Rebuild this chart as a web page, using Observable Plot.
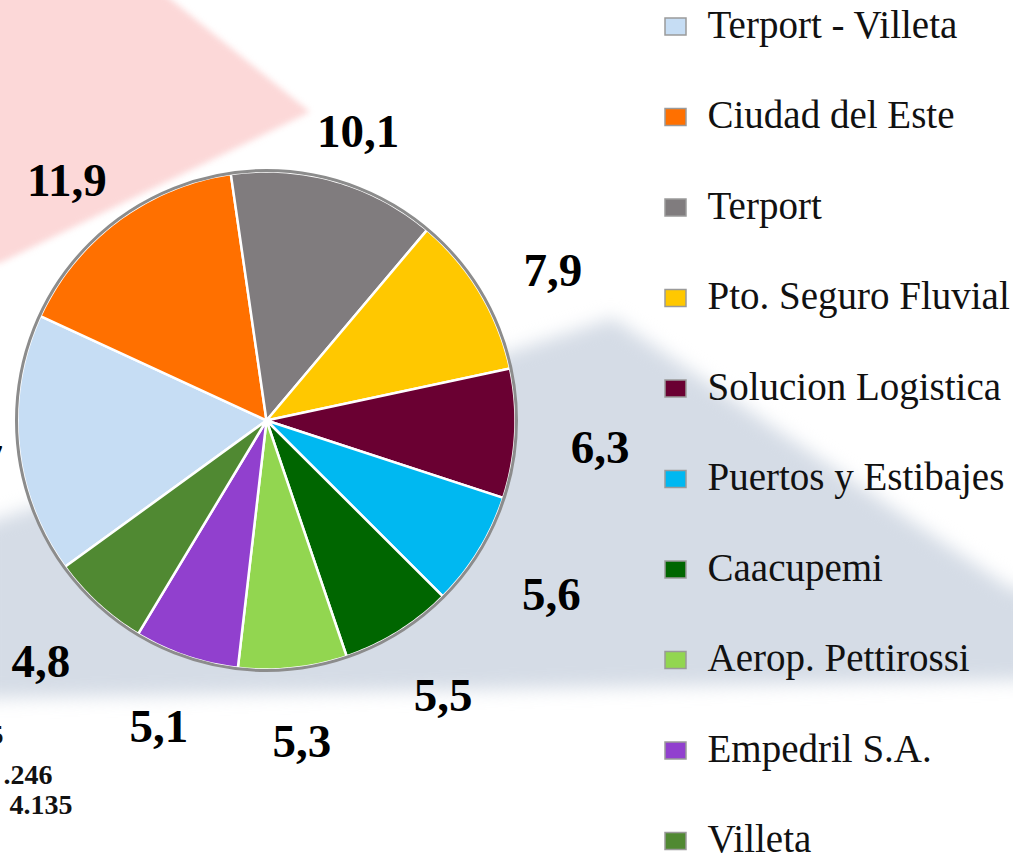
<!DOCTYPE html>
<html>
<head>
<meta charset="utf-8">
<script src="https://cdn.jsdelivr.net/npm/d3@7"></script>
<script src="https://cdn.jsdelivr.net/npm/@observablehq/plot@0.6"></script>
<style>
  html, body { margin: 0; padding: 0; background: #ffffff; overflow: hidden; }
  #wrap { position: relative; width: 1013px; height: 857px; overflow: hidden; background: #ffffff; }
  .bg { position: absolute; left: 0; top: 0; width: 1013px; height: 857px; }
  .shape { position: absolute; left: -20px; top: -20px; width: 1053px; height: 897px; }
  #chart { position: absolute; left: 0; top: 0; }
</style>
</head>
<body>
<div id="wrap">
  <div class="bg" style="filter: blur(3px);">
    <div class="shape" style="background:#fcd8d8; clip-path: polygon(0px 0px, 167px 0px, 330px 132px, 20px 283px, 0px 283px);"></div>
  </div>
  <div class="bg" style="filter: blur(9px);">
    <div class="shape" style="background:#d5dce6; clip-path: polygon(633px 338px, 1033px 610px, 1053px 610px, 1053px 700px, 20px 718px, 0px 718px, 0px 545px);"></div>
  </div>
  <div id="chart"></div>
</div>
<script>
// ---- data ----
const categories = ["Terport - Villeta", "Ciudad del Este", "Terport", "Pto. Seguro Fluvial",
  "Solucion Logistica", "Puertos y Estibajes", "Caacupemi", "Aerop. Pettirossi", "Empedril S.A.", "Villeta"];
const values = [12.7, 11.9, 10.1, 7.9, 6.3, 5.6, 5.5, 5.3, 5.1, 4.8];
const valueLabels = ["12,7", "11,9", "10,1", "7,9", "6,3", "5,6", "5,5", "5,3", "5,1", "4,8"];
const colors = ["#c6ddf4", "#ff7000", "#807c7e", "#ffc800", "#6a0032", "#00b8f1",
  "#006600", "#92d650", "#9140ce", "#508932"];
const notes = ["5", ".246", "4.135"];

// ---- layout constants ----
const W = 1013, H = 857;
const cx = 266, cy = 420, R = 249;
const startDeg = 234;                 // first slice starts here (clockwise from 12 o'clock)
const labelCx = 266, labelCy = 431, labelRx = 334, labelRy = 312;   // outside-end label ring
const labelFont = 47;
const chartLeft = -80;                // the chart area continues past the left edge of the picture
const legendX = 665, legendTextX = 707, legendY0 = 37, legendStep = 90.5;

const rows = categories.map((name, i) => ({name, value: values[i], label: valueLabels[i], color: colors[i], i}));

const arcs = d3.pie().sort(null).value(d => d.value)
  .startAngle(startDeg * Math.PI / 180)
  .endAngle(startDeg * Math.PI / 180 + 2 * Math.PI)(rows);

// slice polygons
const slicePts = [];
for (const a of arcs) {
  const d = a.data;
  slicePts.push({name: d.name, color: d.color, x: cx, y: cy});
  const n = Math.max(8, Math.ceil((a.endAngle - a.startAngle) * 180 / Math.PI));
  for (let k = 0; k <= n; k++) {
    const t = a.startAngle + (a.endAngle - a.startAngle) * k / n;
    slicePts.push({name: d.name, color: d.color, x: cx + R * Math.sin(t), y: cy - R * Math.cos(t)});
  }
}

// label positions (kept inside the chart area)
const labelPts = arcs.map(a => {
  const m = (a.startAngle + a.endAngle) / 2;
  const halfW = a.data.label.length * labelFont * 0.22;
  let x = labelCx + labelRx * Math.sin(m);
  x = Math.max(x, chartLeft + halfW);
  return {text: a.data.label, x, y: labelCy - labelRy * Math.cos(m)};
});

const legendRows = rows.map(d => ({...d, y: legendY0 + legendStep * d.i}));
const noteRows = [
  {text: notes[0], x: 3, y: 743},
  {text: notes[1], x: 52, y: 783},
  {text: notes[2], x: 72, y: 813}
];

const serif = "'Liberation Serif', 'Times New Roman', 'DejaVu Serif', serif";

const chart = Plot.plot({
  width: W, height: H, margin: 0,
  style: {background: "transparent", overflow: "visible"},
  x: {domain: [0, W], range: [0, W], axis: null},
  y: {domain: [0, H], range: [0, H], axis: null},
  color: {type: "identity"},
  marks: [
    Plot.line(slicePts, {x: "x", y: "y", z: "name", fill: "color", stroke: "#ffffff", strokeWidth: 2.5,
      strokeLinejoin: "round", curve: "linear-closed"}),
    Plot.dot([{x: cx, y: cy}], {x: "x", y: "y", r: R + 1, fill: "none", stroke: "#8c8c8c", strokeWidth: 3}),
    Plot.text(labelPts, {x: "x", y: "y", text: "text", fontSize: labelFont, fontWeight: "bold",
      fontFamily: serif, fill: "#000", textAnchor: "middle", lineAnchor: "middle"}),
    Plot.rect(legendRows, {x1: legendX, x2: legendX + 21, y1: d => d.y - 19, y2: d => d.y - 2,
      fill: "color", stroke: "#9a9a9a", strokeWidth: 1.5}),
    Plot.text(legendRows, {x: legendTextX, y: "y", text: "name", fontSize: 39, fontFamily: serif,
      fill: "#111", textAnchor: "start", lineAnchor: "bottom"}),
    Plot.text(noteRows, {x: "x", y: "y", text: "text", fontSize: 28, fontWeight: "bold",
      fontFamily: serif, fill: "#111", textAnchor: "end", lineAnchor: "bottom"})
  ]
});
document.getElementById("chart").appendChild(chart);
</script>
</body>
</html>
